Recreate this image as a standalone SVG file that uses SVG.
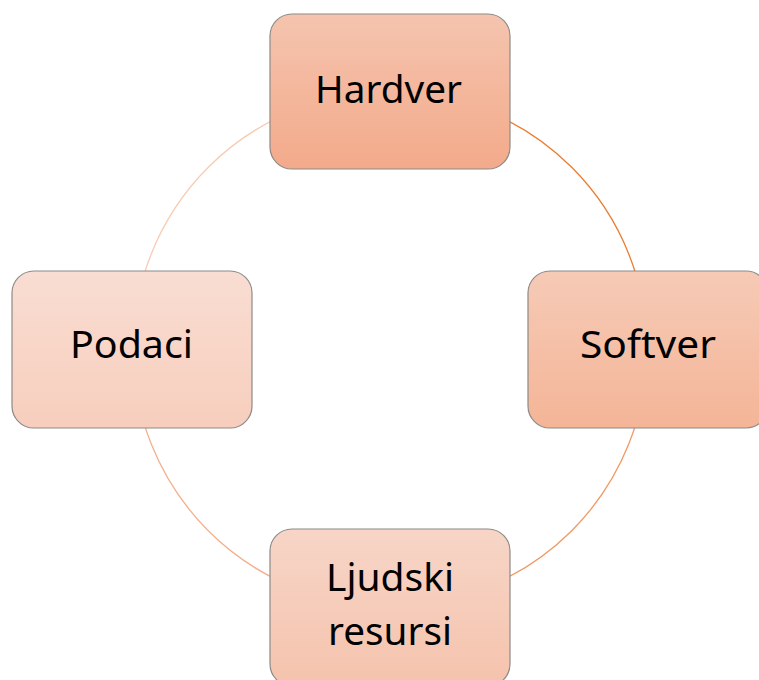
<svg xmlns="http://www.w3.org/2000/svg" width="759" height="680" viewBox="0 0 759 680">
  <defs>
    <linearGradient id="gHardver" x1="0" y1="0" x2="0" y2="1">
      <stop offset="0" stop-color="#f5c4ae"/>
      <stop offset="1" stop-color="#f3aa8b"/>
    </linearGradient>
    <linearGradient id="gSoftver" x1="0" y1="0" x2="0" y2="1">
      <stop offset="0" stop-color="#f6cab6"/>
      <stop offset="1" stop-color="#f4b597"/>
    </linearGradient>
    <linearGradient id="gLjudski" x1="0" y1="0" x2="0" y2="1">
      <stop offset="0" stop-color="#f7d5c7"/>
      <stop offset="1" stop-color="#f5c3ad"/>
    </linearGradient>
    <linearGradient id="gPodaci" x1="0" y1="0" x2="0" y2="1">
      <stop offset="0" stop-color="#f9ddd2"/>
      <stop offset="1" stop-color="#f7cebd"/>
    </linearGradient>
  </defs>
  <style>
    .box { stroke: #8e8a88; stroke-width: 1.2; }
    .lbl { font-family: "Noto Sans", "Open Sans", "Liberation Sans", sans-serif; font-size: 38.5px; fill: #000; }
    .arc { fill: none; stroke-width: 1.3; }
  </style>
  <rect width="759" height="680" fill="#ffffff"/>

  <!-- ring connecting the four parts -->
  <g id="connectors">
    <path class="arc" stroke="#ec7c30" d="M 390 92 A 257 257 0 0 1 647 349"/>
    <path class="arc" stroke="#f09963" d="M 647 349 A 257 257 0 0 1 390 606"/>
    <path class="arc" stroke="#f4b08e" d="M 390 606 A 257 257 0 0 1 133 349"/>
    <path class="arc" stroke="#f7ccb5" d="M 133 349 A 257 257 0 0 1 390 92"/>
  </g>

  <g id="hardver">
    <rect class="box" x="270" y="14" width="240" height="155" rx="22" fill="url(#gHardver)"/>
    <text class="lbl" x="315" y="103" textLength="147" lengthAdjust="spacingAndGlyphs">Hardver</text>
  </g>

  <g id="softver">
    <rect class="box" x="528" y="271" width="240" height="157" rx="22" fill="url(#gSoftver)"/>
    <text class="lbl" x="580" y="358" textLength="136" lengthAdjust="spacingAndGlyphs">Softver</text>
  </g>

  <g id="podaci">
    <rect class="box" x="12" y="271" width="240" height="157" rx="22" fill="url(#gPodaci)"/>
    <text class="lbl" x="70" y="358" textLength="123" lengthAdjust="spacingAndGlyphs">Podaci</text>
  </g>

  <g id="ljudski-resursi">
    <rect class="box" x="270" y="529" width="240" height="157" rx="22" fill="url(#gLjudski)"/>
    <text class="lbl" x="326" y="591" textLength="128" lengthAdjust="spacingAndGlyphs">Ljudski</text>
    <text class="lbl" x="328" y="645" textLength="124" lengthAdjust="spacingAndGlyphs">resursi</text>
  </g>
</svg>
